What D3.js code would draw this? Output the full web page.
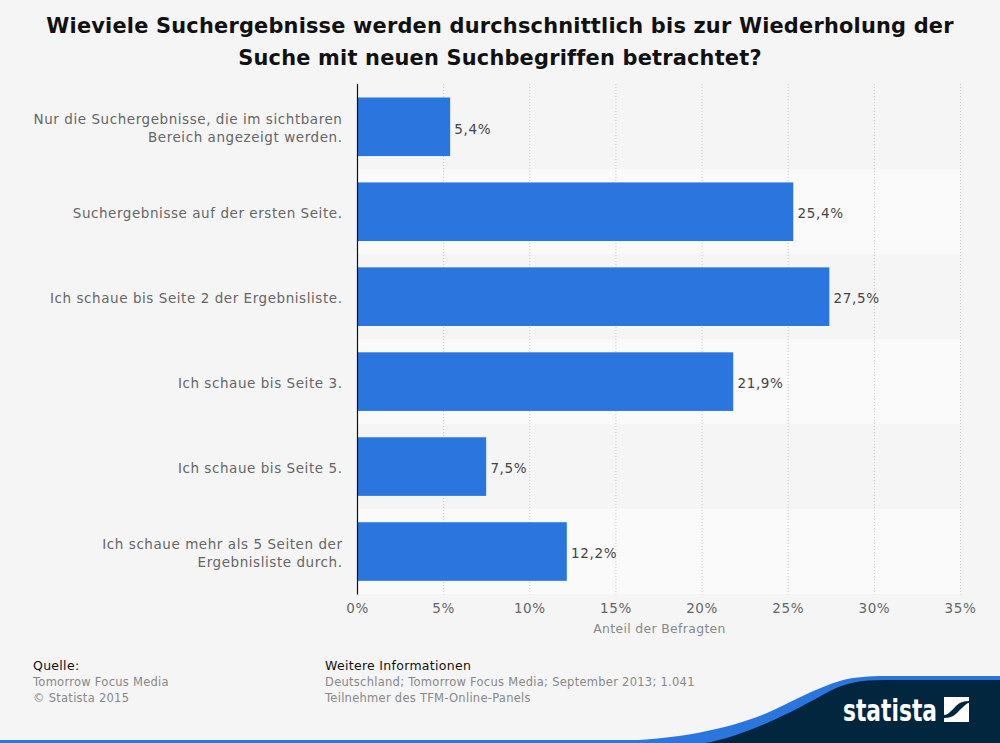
<!DOCTYPE html>
<html>
<head>
<meta charset="utf-8">
<script src="https://cdn.jsdelivr.net/npm/d3@7"></script>
<style>
  html, body { margin: 0; padding: 0; background: #f5f5f5; }
  svg { display: block; }
  text { font-family: "DejaVu Sans", sans-serif; }
</style>
</head>
<body>
<svg id="chart" width="1000" height="743"></svg>
<script>
const titleLines = [
  "Wieviele Suchergebnisse werden durchschnittlich bis zur Wiederholung der",
  "Suche mit neuen Suchbegriffen betrachtet?"
];
const categories = [
  ["Nur die Suchergebnisse, die im sichtbaren", "Bereich angezeigt werden."],
  ["Suchergebnisse auf der ersten Seite."],
  ["Ich schaue bis Seite 2 der Ergebnisliste."],
  ["Ich schaue bis Seite 3."],
  ["Ich schaue bis Seite 5."],
  ["Ich schaue mehr als 5 Seiten der", "Ergebnisliste durch."]
];
const values = [5.4, 25.4, 27.5, 21.9, 7.5, 12.2];
const ticks = [0, 5, 10, 15, 20, 25, 30, 35];
const axisTitle = "Anteil der Befragten";
const sourceLines = ["Tomorrow Focus Media", "© Statista 2015"];
const infoLines = ["Deutschland; Tomorrow Focus Media; September 2013; 1.041", "Teilnehmer des TFM-Online-Panels"];

const svg = d3.select("#chart");
const fmt = v => String(v).replace(".", ",") + "%";

const x = d3.scaleLinear().domain([0, 35]).range([357.5, 960.5]);
// bars run a touch short of the gridlines in the original
const xBar = d3.scaleLinear().domain([0, 35]).range([357.5, 958]);
const band = d3.scaleBand().domain(d3.range(categories.length)).range([84.3, 594]);
const y = d3.scaleBand().domain(d3.range(categories.length)).range([84.3, 594]).paddingInner(0.31).paddingOuter(0.155);

// striped background, every second row is lighter
svg.append("g").selectAll("rect")
  .data(d3.range(categories.length))
  .join("rect")
  .attr("x", x(0))
  .attr("y", d => band(d))
  .attr("width", x(35) - x(0))
  .attr("height", band.bandwidth())
  .attr("fill", d => d % 2 ? "#fafafa" : "#f5f5f5");

// gridlines
svg.append("g").selectAll("line")
  .data(ticks.slice(1))
  .join("line")
  .attr("x1", d => x(d)).attr("x2", d => x(d))
  .attr("y1", 84).attr("y2", 594.5)
  .attr("stroke", "#c8c8c8")
  .attr("stroke-dasharray", "1,2");

// bars
svg.append("g").selectAll("rect")
  .data(values)
  .join("rect")
  .attr("x", x(0))
  .attr("y", (d, i) => y(i))
  .attr("width", d => xBar(d) - x(0))
  .attr("height", y.bandwidth())
  .attr("fill", "#2a76de");

// value labels
svg.append("g").selectAll("text")
  .data(values)
  .join("text")
  .attr("x", d => xBar(d) + 4.2)
  .attr("y", (d, i) => band(i) + band.bandwidth() / 2 + 2)
  .attr("dy", "0.35em")
  .attr("font-size", 13.5)
  .attr("letter-spacing", 0.65)
  .attr("fill", "#444")
  .text(fmt);

// baseline
svg.append("line")
  .attr("x1", x(0)).attr("x2", x(0))
  .attr("y1", 84).attr("y2", 594.5)
  .attr("stroke", "#111")
  .attr("stroke-width", 1.2);

// category labels
const cat = svg.append("g").selectAll("text")
  .data(categories)
  .join("text")
  .attr("text-anchor", "end")
  .attr("font-size", 13.5)
  .attr("letter-spacing", 0.56)
  .attr("fill", "#666");
cat.each(function(lines, i) {
  const mid = band(i) + band.bandwidth() / 2;
  d3.select(this).selectAll("tspan")
    .data(lines)
    .join("tspan")
    .attr("x", 342.5)
    .attr("y", (d, j) => mid + 6.5 + (j - (lines.length - 1) / 2) * 18)
    .text(d => d);
});

// x tick labels
svg.append("g").selectAll("text")
  .data(ticks)
  .join("text")
  .attr("x", d => x(d))
  .attr("y", 613)
  .attr("text-anchor", "middle")
  .attr("font-size", 13.5)
  .attr("letter-spacing", 0.6)
  .attr("fill", "#666")
  .text(d => d + "%");

svg.append("text")
  .attr("x", 659.5)
  .attr("y", 633)
  .attr("text-anchor", "middle")
  .attr("font-size", 12.4)
  .attr("letter-spacing", 0.35)
  .attr("fill", "#888")
  .text(axisTitle);

// title
svg.append("g").selectAll("text")
  .data(titleLines)
  .join("text")
  .attr("x", 500)
  .attr("y", (d, i) => 33 + i * 31.5)
  .attr("text-anchor", "middle")
  .attr("font-size", 20.9)
  .attr("font-weight", "bold")
  .attr("letter-spacing", 0.2)
  .attr("fill", "#111")
  .text(d => d);

// footer text
const footer = (xPos, head, lines) => {
  svg.append("text").attr("x", xPos).attr("y", 670)
    .attr("font-size", 12.5).attr("letter-spacing", 0.3).attr("fill", "#111").text(head);
  svg.append("g").selectAll("text")
    .data(lines)
    .join("text")
    .attr("x", xPos)
    .attr("y", (d, i) => 686 + i * 16)
    .attr("font-size", 11.5)
    .attr("letter-spacing", 0.27)
    .attr("fill", "#888")
    .text(d => d);
};
footer(33, "Quelle:", sourceLines);
footer(325, "Weitere Informationen", infoLines);

// bottom ribbon with logo
svg.append("rect").attr("x", 0).attr("y", 740).attr("width", 720).attr("height", 3).attr("fill", "#2a76de");
svg.append("path")
  .attr("d", "M610,741 C680,740 730,728 767,713 C790,703 815,688 843,680 C855,677 870,676 885,676 L1000,676 L1000,743 L610,743 Z")
  .attr("fill", "#2a76de");
svg.append("path")
  .attr("d", "M705,743 C725,740 750,730 767,723 C790,713 810,702 830,691 C845,683 860,680 885,680 L1000,680 L1000,743 Z")
  .attr("fill", "#03263f");
svg.append("text")
  .attr("x", 843)
  .attr("y", 721)
  .attr("font-family", "'Liberation Sans Narrow', 'Liberation Sans', sans-serif")
  .attr("font-size", 31)
  .attr("font-weight", "bold")
  .attr("textLength", 94)
  .attr("lengthAdjust", "spacingAndGlyphs")
  .attr("fill", "#fff")
  .text("statista");
svg.append("path")
  .attr("d", "M944,697 H969 V701 C958,701 956,707 951,711 C948,714 946,715 944,715 Z M969,703 V722 H944 V718 C955,718 957,712 962,708 C965,705 967,703 969,703 Z")
  .attr("fill", "#fff");
</script>
</body>
</html>
